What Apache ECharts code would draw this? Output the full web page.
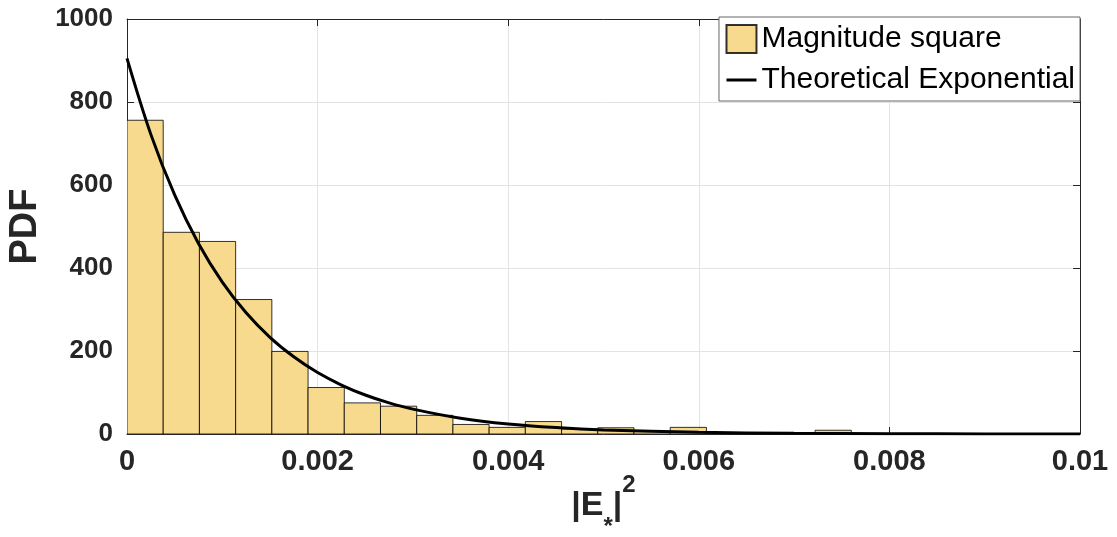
<!DOCTYPE html>
<html>
<head>
<meta charset="utf-8">
<script src="https://cdn.jsdelivr.net/npm/echarts@6/dist/echarts.min.js"></script>
<style>
  html, body { margin: 0; padding: 0; background: #fff; }
  #chart { width: 1117px; height: 537px; }
</style>
</head>
<body>
<div id="chart"></div>
<script>
// Histogram of |E*|^2 (normalised to a PDF) with bin width binWidth
const binWidth = 0.00038;
const pdfValues = [756, 486, 464, 324, 199, 112, 75, 67, 45, 23, 16, 30, 12, 15, 6, 16, 3, 2, 2, 9, 1, 1, 0.5, 0.5, 0, 0.5];

// Theoretical exponential density, sampled along x
const curveX = [0, 0.00025, 0.0005, 0.00075, 0.001, 0.00125, 0.0015, 0.00175, 0.002, 0.00225, 0.0025, 0.00275, 0.003, 0.0035, 0.004, 0.0045, 0.005, 0.006, 0.007, 0.008, 0.009, 0.01];
const curveY = [905, 722, 576, 459, 366, 292, 233, 186, 148, 118, 94, 75, 60, 38, 24, 15.4, 9.8, 4.0, 1.6, 0.65, 0.3, 0.1];

const xTickLabels = ['0', '0.002', '0.004', '0.006', '0.008', '0.01'];
const yTickLabels = ['0', '200', '400', '600', '800', '1000'];

const histData = pdfValues.map((v, i) => [i * binWidth, (i + 1) * binWidth, v]);
const curveData = curveX.map((x, i) => [x, curveY[i]]);

const FONT = "'Liberation Sans', Arial, Helvetica, sans-serif";
const AXIS_COLOR = '#262626';
const BAR_FILL = '#F7DA8E';
const BAR_EDGE = 'rgba(0,0,0,0.8)';

const chart = echarts.init(document.getElementById('chart'), null, { renderer: 'canvas' });

chart.setOption({
  animation: false,
  backgroundColor: '#fff',
  grid: { left: 127, right: 37, top: 19, bottom: 103, containLabel: false, outerBoundsMode: 'none' },
  legend: {
    orient: 'vertical',
    right: 37,
    top: 17,
    padding: [7, 5, 6, 6],
    itemGap: 11,
    itemWidth: 30,
    itemHeight: 28,
    backgroundColor: '#fff',
    borderColor: '#666',
    borderWidth: 1,
    borderRadius: 0,
    selectedMode: false,
    textStyle: { fontFamily: FONT, fontSize: 30, color: '#000' },
    data: [
      { name: 'Magnitude square', icon: 'rect' },
      { name: 'Theoretical Exponential', itemStyle: { opacity: 0 }, lineStyle: { color: '#000', width: 3 } }
    ]
  },
  xAxis: [
    {
      type: 'value',
      min: 0, max: 0.01, interval: 0.002,
      position: 'bottom',
      axisLine: { show: true, onZero: false, lineStyle: { color: AXIS_COLOR, width: 1 } },
      axisTick: { show: true, inside: true, length: 7, lineStyle: { color: AXIS_COLOR } },
      axisLabel: {
        margin: 13,
        fontFamily: FONT, fontSize: 29, fontWeight: 'bold', color: AXIS_COLOR,
        formatter: (v) => xTickLabels[Math.round(v / 0.002)]
      },
      splitLine: { show: true, lineStyle: { color: '#e3e3e3', width: 1 } },
      // |E_*|^2 : subscript asterisk and superscript 2 as rich-text tokens
      name: '{b||E}{s|*}{b||}{p|2}',
      nameLocation: 'middle',
      nameGap: 39,
      nameMoveOverlap: false,
      nameTextStyle: {
        rich: {
          b: { fontFamily: FONT, fontSize: 34, fontWeight: 'bold', color: AXIS_COLOR, lineHeight: 66, verticalAlign: 'middle' },
          s: { fontFamily: FONT, fontSize: 24, fontWeight: 'bold', color: AXIS_COLOR, lineHeight: 22, verticalAlign: 'bottom' },
          p: { fontFamily: FONT, fontSize: 24, fontWeight: 'bold', color: AXIS_COLOR, lineHeight: 14, verticalAlign: 'top' }
        }
      }
    },
    {
      type: 'value',
      min: 0, max: 0.01, interval: 0.002,
      position: 'top',
      axisLine: { show: true, onZero: false, lineStyle: { color: AXIS_COLOR, width: 1 } },
      axisTick: { show: true, inside: true, length: 7, lineStyle: { color: AXIS_COLOR } },
      axisLabel: { show: false },
      splitLine: { show: false }
    }
  ],
  yAxis: [
    {
      type: 'value',
      min: 0, max: 1000, interval: 200,
      position: 'left',
      axisLine: { show: true, onZero: false, lineStyle: { color: AXIS_COLOR, width: 1 } },
      axisTick: { show: true, inside: true, length: 7, lineStyle: { color: AXIS_COLOR } },
      axisLabel: {
        margin: 14,
        fontFamily: FONT, fontSize: 26, fontWeight: 'bold', color: AXIS_COLOR,
        formatter: (v) => yTickLabels[Math.round(v / 200)]
      },
      splitLine: { show: true, lineStyle: { color: '#e3e3e3', width: 1 } },
      name: 'PDF',
      nameLocation: 'middle',
      nameGap: 75,
      nameTextStyle: { fontFamily: FONT, fontSize: 38, fontWeight: 'bold', color: AXIS_COLOR }
    },
    {
      type: 'value',
      min: 0, max: 1000, interval: 200,
      position: 'right',
      axisLine: { show: true, onZero: false, lineStyle: { color: AXIS_COLOR, width: 1 } },
      axisTick: { show: true, inside: true, length: 7, lineStyle: { color: AXIS_COLOR } },
      axisLabel: { show: false },
      splitLine: { show: false }
    }
  ],
  series: [
    {
      name: 'Magnitude square',
      type: 'custom',
      xAxisIndex: 0,
      yAxisIndex: 0,
      data: histData,
      encode: { x: [0, 1], y: 2 },
      itemStyle: { color: BAR_FILL, borderColor: BAR_EDGE, borderWidth: 1 },
      clip: true,
      z: 2,
      renderItem: function (params, api) {
        const top = api.coord([api.value(0), api.value(2)]);
        const bottom = api.coord([api.value(1), 0]);
        return {
          type: 'rect',
          shape: { x: top[0], y: top[1], width: bottom[0] - top[0], height: bottom[1] - top[1] },
          style: { fill: BAR_FILL, stroke: BAR_EDGE, lineWidth: 1 }
        };
      }
    },
    {
      name: 'Theoretical Exponential',
      type: 'line',
      xAxisIndex: 0,
      yAxisIndex: 0,
      data: curveData,
      smooth: 0.35,
      symbol: 'none',
      showSymbol: false,
      lineStyle: { color: '#000', width: 3 },
      itemStyle: { color: '#000' },
      z: 3
    }
  ]
});
</script>
</body>
</html>
